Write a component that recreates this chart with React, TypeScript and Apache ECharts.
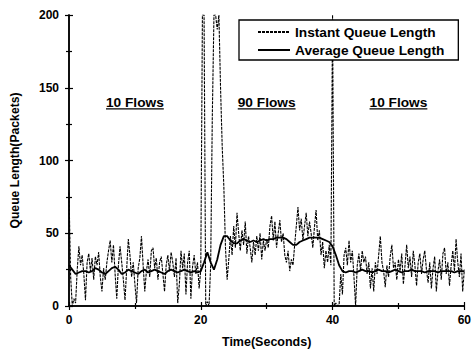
import React, { useEffect, useRef } from "react";
import * as echarts from "echarts";

// Sampling step of the two series (seconds)
const INSTANT_STEP = 0.25;
const AVERAGE_STEP = 0.5;

// Instantaneous queue length (packets), one value every 0.25 s from t = 0 to t = 60
const instantValues: number[] = [
  // 0 - 10 s
  78, 20, 0, 5, 2, 25, 41, 28, 35, 22, 4, 30, 36, 24, 33, 18, 34, 28, 37, 20,
  10, 26, 18, 30, 38, 45, 30, 42, 22, 5, 28, 41, 30, 18, 4, 25, 46, 35, 20, 30,
  // 10 - 20 s
  15, 2, 26, 33, 48, 28, 10, 24, 32, 20, 38, 40, 26, 33, 18, 30, 34, 22, 10, 28,
  35, 24, 37, 30, 20, 33, 2, 15, 38, 26, 36, 8, 30, 38, 5, 27, 35, 22, 30, 12,
  // 20 - 30 s
  25, 200, 200, 0, 3, 0, 28, 130, 200, 200, 190, 200, 150, 110, 82, 40, 18, 32, 48, 35,
  55, 40, 64, 50, 38, 52, 42, 58, 36, 48, 40, 30, 44, 35, 48, 38, 50, 32, 45, 38,
  // 30 - 40 s
  46, 40, 55, 62, 45, 58, 40, 50, 59, 44, 50, 35, 30, 38, 24, 32, 28, 42, 55, 68,
  52, 60, 45, 55, 64, 48, 58, 50, 40, 54, 66, 45, 52, 35, 44, 26, 38, 30, 42, 28,
  // 40 - 50 s
  200, 0, 2, 0, 1, 22, 8, 35, 40, 28, 45, 30, 38, 20, 0, 28, 36, 24, 38, 30,
  34, 22, 30, 12, 26, 10, 30, 22, 35, 48, 30, 24, 13, 28, 20, 34, 42, 26, 30, 18,
  // 50 - 60 s
  32, 24, 36, 15, 28, 42, 26, 34, 20, 38, 28, 14, 30, 36, 22, 32, 38, 25, 16, 30,
  12, 26, 34, 10, 24, 32, 18, 36, 40, 22, 30, 14, 28, 38, 24, 46, 30, 20, 36, 10,
  25,
];

// Average queue length (packets), one value every 0.5 s from t = 0 to t = 60
const averageValues: number[] = [
  // 0 - 10 s
  28, 25, 22, 23, 24, 24, 23, 24, 26, 25, 23, 22, 24, 26, 27, 25, 22, 23, 25, 24,
  // 10 - 20 s
  23, 22, 24, 25, 23, 24, 25, 24, 23, 22, 24, 25, 24, 23, 24, 25, 24, 23, 24, 23,
  // 20 - 30 s
  24, 30, 37, 30, 25, 32, 42, 48, 48, 45, 43, 43, 45, 46, 45, 44, 45, 44, 45, 46,
  // 30 - 40 s
  45, 46, 46, 47, 47, 47, 46, 44, 42, 42, 44, 45, 46, 47, 47, 47, 47, 46, 45, 44,
  // 40 - 50 s
  41, 35, 28, 24, 23, 24, 24, 23, 24, 25, 24, 24, 23, 24, 25, 24, 24, 23, 24, 25,
  // 50 - 60 s
  24, 23, 24, 24, 25, 24, 24, 24, 23, 24, 24, 24, 23, 24, 24, 24, 24, 23, 24, 24,
  24,
];

// Phase annotations: [time, queue length, text]
const phaseLabels: [number, number, string][] = [
  [10, 140, "10 Flows"],
  [30, 140, "90 Flows"],
  [50, 140, "10 Flows"],
];

const seriesNames = ["Instant Queue Length", "Average Queue Length"];
const xTitle = "Time(Seconds)";
const yTitle = "Queue Length(Packets)";

const FONT = "'Liberation Sans', Arial, Helvetica, sans-serif";
const CLEAR = "rgba(0,0,0,0)";

export default function App() {
  const ref = useRef<HTMLDivElement>(null);

  useEffect(() => {
    document.body.style.margin = "0";
    if (!ref.current) return;
    const chart = echarts.init(ref.current, null, { renderer: "svg" });

    const instantData = instantValues.map((v, i) => [i * INSTANT_STEP, v]);
    const averageData = averageValues.map((v, i) => [i * AVERAGE_STEP, v]);

    const axisLine = { show: true, lineStyle: { color: "#000", width: 1.5 } };
    const tickStyle = { color: "#000", width: 1.2 };
    const labelStyle = {
      color: "#000",
      fontFamily: FONT,
      fontWeight: "bold" as const,
      fontSize: 12,
    };

    const option: any = {
      animation: false,
      backgroundColor: "#fff",
      grid: { left: 69, right: 7, top: 15, bottom: 46 },
      legend: {
        data: seriesNames,
        orient: "vertical",
        left: 239,
        top: 20,
        padding: [5, 14, 3, 18],
        itemGap: 4,
        itemWidth: 32,
        itemHeight: 13,
        backgroundColor: "#fff",
        borderColor: "#000",
        borderWidth: 1.3,
        borderRadius: 0,
        itemStyle: { color: CLEAR, borderWidth: 0, opacity: 0 },
        textStyle: {
          color: "#000",
          fontFamily: FONT,
          fontWeight: "bold",
          fontSize: 13.7,
          padding: [0, 0, 0, 0],
        },
      },
      xAxis: [
        {
          type: "value",
          min: 0,
          max: 60,
          interval: 20,
          position: "bottom",
          axisLine,
          axisTick: { show: true, length: 4, lineStyle: tickStyle },
          minorTick: { show: true, splitNumber: 2, length: 3, lineStyle: tickStyle },
          splitLine: { show: false },
          axisLabel: { ...labelStyle, margin: 8 },
          name: xTitle,
          nameLocation: "middle",
          nameGap: 29,
          nameTextStyle: { ...labelStyle, fontSize: 12.5 },
        },
        {
          type: "value",
          min: 0,
          max: 60,
          interval: 20,
          position: "top",
          axisLine,
          axisTick: { show: true, length: 4, lineStyle: tickStyle },
          minorTick: { show: true, splitNumber: 2, length: 3, lineStyle: tickStyle },
          splitLine: { show: false },
          axisLabel: { show: false },
        },
      ],
      yAxis: [
        {
          type: "value",
          min: 0,
          max: 200,
          interval: 50,
          position: "left",
          axisLine,
          axisTick: { show: true, length: 4, lineStyle: tickStyle },
          minorTick: { show: true, splitNumber: 2, length: 3, lineStyle: tickStyle },
          splitLine: { show: false },
          axisLabel: { ...labelStyle, margin: 10 },
          name: yTitle,
          nameLocation: "middle",
          nameGap: 48,
          nameTextStyle: { ...labelStyle, fontSize: 12.2 },
        },
        {
          type: "value",
          min: 0,
          max: 200,
          interval: 50,
          position: "right",
          axisLine,
          axisTick: { show: true, length: 4, lineStyle: tickStyle },
          minorTick: { show: true, splitNumber: 2, length: 3, lineStyle: tickStyle },
          splitLine: { show: false },
          axisLabel: { show: false },
        },
      ],
      series: [
        {
          name: seriesNames[0],
          type: "line",
          data: instantData,
          symbol: "none",
          clip: true,
          lineStyle: { color: "#000", width: 1.1, type: [3, 1] },
          itemStyle: { color: CLEAR },
          z: 2,
        },
        {
          name: seriesNames[1],
          type: "line",
          data: averageData,
          symbol: "none",
          clip: true,
          lineStyle: { color: "#000", width: 1.8, type: "solid" },
          itemStyle: { color: CLEAR },
          z: 3,
        },
      ],
    };

    chart.setOption(option);

    // Phase annotations, positioned through the chart's own scales
    const ctx = document.createElement("canvas").getContext("2d");
    const font = `bold 13.7px ${FONT}`;
    if (ctx) ctx.font = font;
    const graphics: any[] = [];
    phaseLabels.forEach(([t, v, text]) => {
      const p = chart.convertToPixel({ gridIndex: 0 }, [t, v]) as number[];
      const w = ctx ? ctx.measureText(text).width : 57;
      graphics.push({
        type: "text",
        x: p[0],
        y: p[1],
        z: 10,
        style: {
          text,
          font,
          fill: "#000",
          textAlign: "center",
          textVerticalAlign: "middle",
        },
      });
      graphics.push({
        type: "line",
        z: 10,
        shape: { x1: p[0] - w / 2, y1: p[1] + 6.5, x2: p[0] + w / 2, y2: p[1] + 6.5 },
        style: { stroke: "#000", lineWidth: 1.2 },
      });
    });
    chart.setOption({ graphic: graphics });

    return () => chart.dispose();
  }, []);

  return <div ref={ref} style={{ width: 474, height: 353 }} />;
}
